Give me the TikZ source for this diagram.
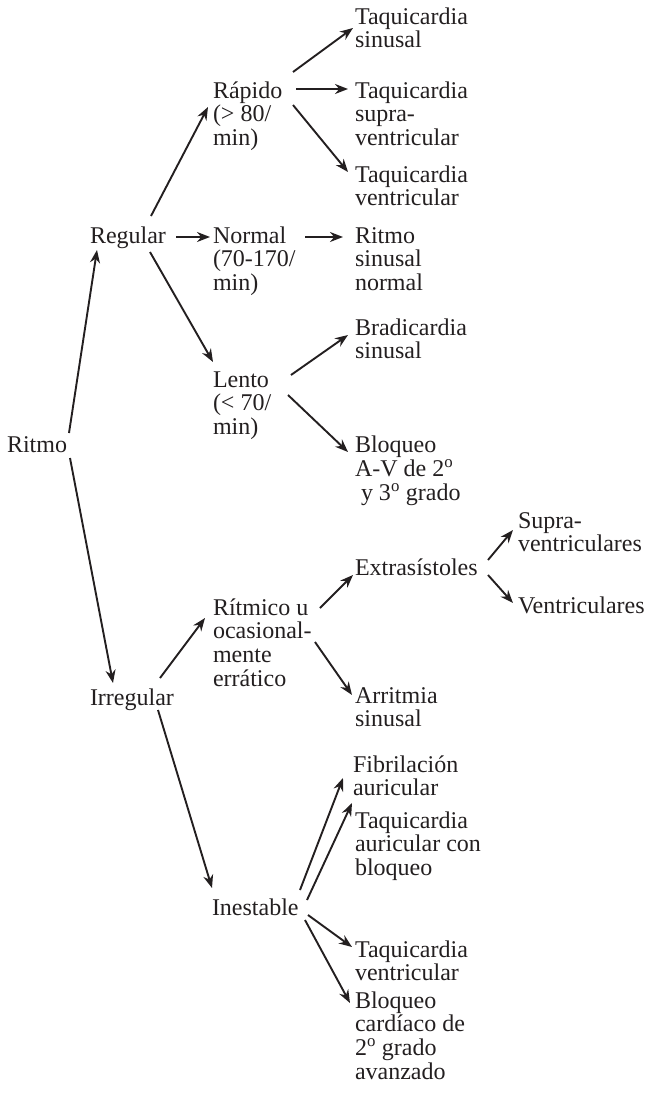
\documentclass[tikz,border=0pt]{standalone}
\usepackage{fontspec}
\setmainfont{Liberation Serif}
\usetikzlibrary{arrows.meta}
\definecolor{InkBlack}{HTML}{231F20}
\tikzset{
    term/.style={
        anchor=base west,
        inner sep=0pt,
        outer sep=0pt,
        text=InkBlack,
        font=\fontsize{24}{23.8}\selectfont
    },
    arrow/.style={
        -{Stealth[length=13pt, width=10pt]},
        line width=1.9pt,
        InkBlack
    }
}
% lines of one label, baseline on the first line
\newcommand{\termlines}[1]{\begin{tabular}[t]{@{}l@{}}#1\end{tabular}}
\newcommand{\ord}{\textsuperscript{o}}
\begin{document}
\begin{tikzpicture}[x=1pt, y=-1pt]
    \useasboundingbox (0,0) rectangle (655,1098);

    % first level
    \node[term] (ritmo) at (7,452) {Ritmo};
    \node[term] (regular) at (90,243) {Regular};
    \node[term] (irregular) at (90,705) {Irregular};

    % regular rhythm
    \node[term] (rapido) at (213,98) {\termlines{Rápido\\(> 80/\\min)}};
    \node[term] (normal) at (213,243) {\termlines{Normal\\(70-170/\\min)}};
    \node[term] (lento) at (213,387) {\termlines{Lento\\(< 70/\\min)}};
    \node[term] (taqsin) at (355,24) {\termlines{Taquicardia\\sinusal}};
    \node[term] (taqsv) at (355,98) {\termlines{Taquicardia\\supra-\\ventricular}};
    \node[term] (taqv) at (355,182) {\termlines{Taquicardia\\ventricular}};
    \node[term] (rsn) at (355,243) {\termlines{Ritmo\\sinusal\\normal}};
    \node[term] (bradsin) at (355,335) {\termlines{Bradicardia\\sinusal}};
    \node[term] (bloqav) at (355,452) {\termlines{Bloqueo\\A-V de 2\ord\\\hspace*{6pt}y 3\ord{} grado}};

    % irregular rhythm
    \node[term] (ritmico) at (213,615) {\termlines{Rítmico u\\ocasional-\\mente\\errático}};
    \node[term] (extras) at (355,575) {Extrasístoles};
    \node[term] (supra) at (518,528) {\termlines{Supra-\\ventriculares}};
    \node[term] (ventr) at (518,613) {Ventriculares};
    \node[term] (arrit) at (355,703) {\termlines{Arritmia\\sinusal}};
    \node[term] (inest) at (212,915) {Inestable};
    \node[term] (fibaur) at (353,772) {\termlines{Fibrilación\\auricular}};
    \node[term] (taqaur) at (355,828) {\termlines{Taquicardia\\auricular con\\bloqueo}};
    \node[term] (taqv2) at (355,957) {\termlines{Taquicardia\\ventricular}};
    \node[term] (bloqc) at (355,1008) {\termlines{Bloqueo\\cardíaco de\\2\ord{} grado\\avanzado}};

    \draw[arrow] ([shift={(62,-19)}]ritmo.base west) -- ([shift={(7,7)}]regular.base west);
    \draw[arrow] ([shift={(63,6)}]ritmo.base west) -- ([shift={(23,-22)}]irregular.base west);

    \draw[arrow] ([shift={(61,-27)}]regular.base west) -- ([shift={(-5,9)}]rapido.base west);
    \draw[arrow] ([shift={(86,-6)}]regular.base west) -- ([shift={(-3,-6)}]normal.base west);
    \draw[arrow] ([shift={(60,9)}]regular.base west) -- ([shift={(0,-25)}]lento.base west);

    \draw[arrow] ([shift={(80,-26)}]rapido.base west) -- ([shift={(-2,4)}]taqsin.base west);
    \draw[arrow] ([shift={(83,-9)}]rapido.base west) -- ([shift={(-7,-9)}]taqsv.base west);
    \draw[arrow] ([shift={(80,7)}]rapido.base west) -- ([shift={(-7,-10)}]taqv.base west);
    \draw[arrow] ([shift={(92,-6)}]normal.base west) -- ([shift={(-12,-6)}]rsn.base west);
    \draw[arrow] ([shift={(78,-12)}]lento.base west) -- ([shift={(-7,0)}]bradsin.base west);
    \draw[arrow] ([shift={(75,8)}]lento.base west) -- ([shift={(-7,0)}]bloqav.base west);

    \draw[arrow] ([shift={(70,-27)}]irregular.base west) -- ([shift={(-8,3)}]ritmico.base west);
    \draw[arrow] ([shift={(68,5)}]irregular.base west) -- ([shift={(0,-27)}]inest.base west);

    \draw[arrow] ([shift={(107,-7)}]ritmico.base west) -- ([shift={(-2,0)}]extras.base west);
    \draw[arrow] ([shift={(102,27)}]ritmico.base west) -- ([shift={(-3,-8)}]arrit.base west);
    \draw[arrow] ([shift={(133,-15)}]extras.base west) -- ([shift={(-5,2)}]supra.base west);
    \draw[arrow] ([shift={(133,0)}]extras.base west) -- ([shift={(-5,-10)}]ventr.base west);

    \draw[arrow] ([shift={(88,-25)}]inest.base west) -- ([shift={(-10,6)}]fibaur.base west);
    \draw[arrow] ([shift={(95,-15)}]inest.base west) -- ([shift={(-3,-25)}]taqaur.base west);
    \draw[arrow] ([shift={(96,0)}]inest.base west) -- ([shift={(-3,-10)}]taqv2.base west);
    \draw[arrow] ([shift={(93,5)}]inest.base west) -- ([shift={(-5,-5)}]bloqc.base west);
\end{tikzpicture}
\end{document}
